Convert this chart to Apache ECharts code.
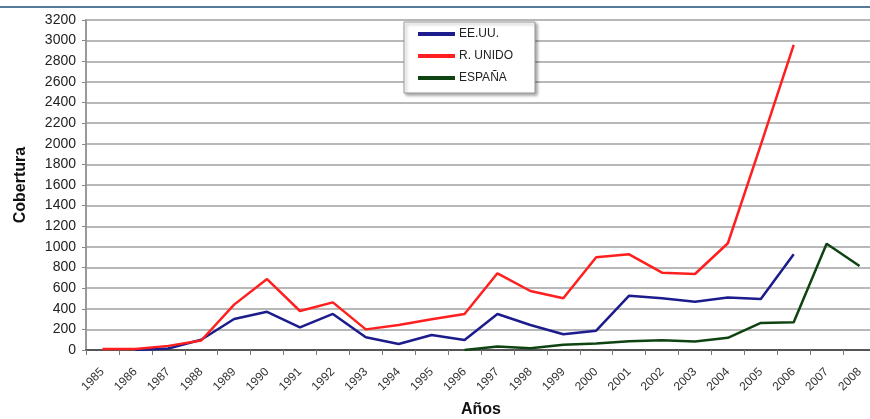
<!DOCTYPE html>
<html>
<head>
<meta charset="utf-8">
<script src="https://cdn.jsdelivr.net/npm/echarts@6/dist/echarts.min.js"></script>
<style>
html,body{margin:0;padding:0;background:#fff;}
#chart{width:870px;height:419px;}
</style>
</head>
<body>
<div id="chart"></div>
<script>
const years = ['1985','1986','1987','1988','1989','1990','1991','1992','1993','1994','1995','1996','1997','1998','1999','2000','2001','2002','2003','2004','2005','2006','2007','2008'];
const eeuu = [null, 0, 15, 100, 300, 370, 220, 350, 123, 58, 145, 97, 349, 242, 152, 187, 527, 501, 469, 508, 495, 928, null, null];
const rUnido = [10, 10, 40, 92, 440, 688, 378, 462, 200, 242, 298, 349, 744, 572, 501, 899, 928, 750, 737, 1035, 1990, 2958, null, null];
const espana = [null, null, null, null, null, null, null, null, null, null, null, 0, 35, 18, 50, 62, 85, 95, 82, 118, 262, 270, 1030, 815];
const seriesNames = ['EE.UU.', 'R. UNIDO', 'ESPAÑA'];
const yTicks = {min: 0, max: 3200, interval: 200};

const FONT = '"Liberation Sans", Arial, sans-serif';
const chart = echarts.init(document.getElementById('chart'), null, {renderer: 'canvas'});
chart.setOption({
  animation: false,
  backgroundColor: '#fff',
  textStyle: {fontFamily: FONT},
  grid: {left: 86, top: 20, right: -6, bottom: 69, containLabel: false, outerBoundsMode: 'none'},
  graphic: [{
    type: 'line', shape: {x1: 0, y1: 7, x2: 870, y2: 7},
    style: {stroke: '#1f4e79', lineWidth: 1.5}, silent: true
  }],
  legend: {
    orient: 'vertical', left: 404, top: 22,
    icon: 'rect', itemWidth: 37, itemHeight: 4, itemGap: 8,
    padding: [5, 22, 8, 14],
    backgroundColor: '#fff', borderColor: '#999', borderWidth: 1,
    shadowBlur: 3, shadowColor: 'rgba(0,0,0,0.35)', shadowOffsetX: 2, shadowOffsetY: 2,
    textStyle: {fontFamily: FONT, fontSize: 12, color: '#222', lineHeight: 14, padding: [0, 0, 0, -1]},
    data: seriesNames
  },
  xAxis: {
    type: 'category', data: years, boundaryGap: true,
    name: 'Años', nameLocation: 'middle', nameGap: 52,
    nameTextStyle: {fontFamily: FONT, fontSize: 16, fontWeight: 'bold', color: '#111'},
    axisLine: {lineStyle: {color: '#555', width: 2}},
    axisTick: {show: true, alignWithLabel: false, length: 5, lineStyle: {color: '#777'}},
    axisLabel: {rotate: 45, interval: 0, fontSize: 12, color: '#333', margin: 20, fontFamily: FONT},
    splitLine: {show: false}
  },
  yAxis: {
    type: 'value', min: yTicks.min, max: yTicks.max, interval: yTicks.interval,
    name: 'Cobertura', nameLocation: 'middle', nameGap: 57, nameRotate: 90,
    nameTextStyle: {fontFamily: FONT, fontSize: 16, fontWeight: 'bold', color: '#111'},
    axisLine: {show: true, lineStyle: {color: '#999', width: 2}},
    axisTick: {show: true, length: 4, lineStyle: {color: '#888'}},
    axisLabel: {fontSize: 14, color: '#222', margin: 10, fontFamily: FONT, formatter: v => String(v)},
    splitLine: {show: true, lineStyle: {color: '#a0a0a0', width: 1.5}}
  },
  series: [
    {name: seriesNames[0], type: 'line', data: eeuu, symbol: 'none', lineStyle: {color: '#1c1c8c', width: 2.5}, itemStyle: {color: '#1c1c8c'}},
    {name: seriesNames[1], type: 'line', data: rUnido, symbol: 'none', lineStyle: {color: '#ff1f1f', width: 2.5}, itemStyle: {color: '#ff1f1f'}},
    {name: seriesNames[2], type: 'line', data: espana, symbol: 'none', lineStyle: {color: '#0f4412', width: 2.5}, itemStyle: {color: '#0f4412'}}
  ]
});
</script>
</body>
</html>
